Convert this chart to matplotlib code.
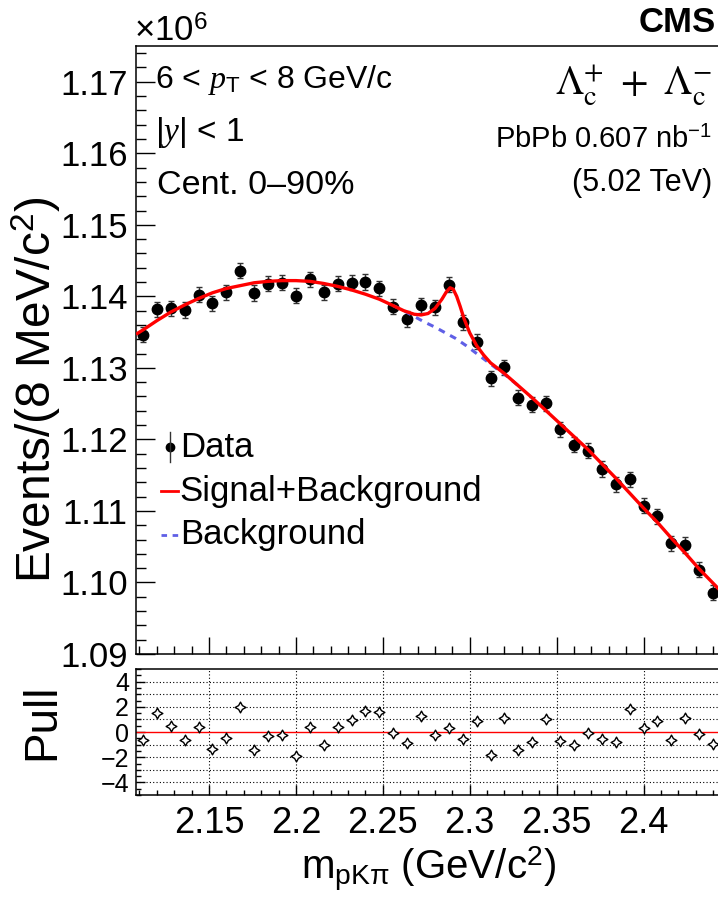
import numpy as np
import matplotlib
matplotlib.use("Agg")
import matplotlib.pyplot as plt
from matplotlib.ticker import MultipleLocator, FixedLocator, FixedFormatter, FormatStrFormatter

plt.rcParams['font.family'] = ['Liberation Sans', 'DejaVu Sans']
plt.rcParams['mathtext.fontset'] = 'custom'
plt.rcParams['mathtext.rm'] = 'Liberation Sans'
plt.rcParams['mathtext.it'] = 'Liberation Serif:italic'
plt.rcParams['mathtext.bf'] = 'Liberation Sans:bold'

# ---------------- data (counts in units of 10^6) ----------------
mass = [2.112, 2.120, 2.128, 2.136, 2.144, 2.152, 2.160, 2.168, 2.176, 2.184,
        2.192, 2.200, 2.208, 2.216, 2.224, 2.232, 2.240, 2.248, 2.256, 2.264,
        2.272, 2.280, 2.288, 2.296, 2.304, 2.312, 2.320, 2.328, 2.336, 2.344,
        2.352, 2.360, 2.368, 2.376, 2.384, 2.392, 2.400, 2.408, 2.416, 2.424,
        2.432, 2.440]
counts = [1.13462, 1.13821, 1.13835, 1.13811, 1.14021, 1.13905, 1.14058, 1.14361, 1.14045, 1.14175,
          1.14193, 1.14011, 1.14240, 1.14058, 1.14175, 1.14189, 1.14199, 1.14114, 1.13858, 1.13685,
          1.13876, 1.13849, 1.14161, 1.13639, 1.13368, 1.12856, 1.13009, 1.12585, 1.12483, 1.12506,
          1.12142, 1.11923, 1.11839, 1.11587, 1.11373, 1.11443, 1.11074, 1.10925, 1.10548, 1.10524,
          1.10175, 1.09858]
pulls = [-0.60, 1.50, 0.45, -0.65, 0.40, -1.33, -0.47, 1.95, -1.39, -0.28,
         -0.23, -1.91, 0.40, -1.04, 0.40, 0.98, 1.63, 1.55, -0.07, -0.86,
         1.24, -0.20, 0.32, -0.52, 0.90, -1.83, 1.11, -1.39, -0.78, 1.06,
         -0.68, -1.07, -0.07, -0.54, -0.78, 1.82, 0.32, 0.84, -0.60, 1.11,
         -0.13, -0.99]

fit_mass = [2.108, 2.112, 2.120, 2.128, 2.136, 2.144, 2.152, 2.160, 2.168, 2.176,
            2.184, 2.192, 2.200, 2.208, 2.216, 2.224, 2.232, 2.240, 2.248, 2.256,
            2.262, 2.268, 2.272, 2.276, 2.280, 2.284, 2.2865, 2.2887, 2.2905, 2.2925,
            2.2945, 2.2967, 2.300, 2.304, 2.308, 2.312, 2.320, 2.328, 2.336, 2.344,
            2.352, 2.360, 2.368, 2.376, 2.384, 2.392, 2.400, 2.408, 2.416, 2.424,
            2.432, 2.440, 2.444]
fit_total = [1.1347, 1.1353, 1.1366, 1.1378, 1.1388, 1.1397, 1.1405, 1.1411, 1.1415, 1.1419,
             1.1421, 1.1422, 1.1422, 1.1421, 1.1418, 1.1414, 1.1409, 1.1403, 1.1396, 1.1387,
             1.1380, 1.1375, 1.1374, 1.1376, 1.1383, 1.1396, 1.1406, 1.1412, 1.1410, 1.1400,
             1.1386, 1.1369, 1.1349, 1.1331, 1.1318, 1.1307, 1.1292, 1.1275, 1.1258, 1.1240,
             1.1222, 1.1204, 1.1186, 1.1166, 1.1146, 1.1125, 1.1104, 1.1084, 1.1062, 1.1041,
             1.1019, 1.0999, 1.0989]

bkg_mass = [2.256, 2.262, 2.268, 2.274, 2.280, 2.286, 2.292, 2.298, 2.304, 2.310,
            2.316, 2.320, 2.328]
bkg_vals = [1.1387, 1.1380, 1.1372, 1.1364, 1.1357, 1.1349, 1.1341, 1.1331, 1.1320, 1.1309,
            1.1298, 1.1291, 1.1275]

xtick_vals = [2.15, 2.2, 2.25, 2.3, 2.35, 2.4]
xtick_labels = ["2.15", "2.2", "2.25", "2.3", "2.35", "2.4"]
pull_tick_vals = [-4, -2, 0, 2, 4]
pull_tick_labels = ["\u22124", "\u22122", "0", "2", "4"]

# ---------------- figure ----------------
W, H = 718, 897
fig = plt.figure(figsize=(W / 100, H / 100), dpi=100)

def fx(px):
    return px / W

def fy(py):
    return 1 - py / H

L, R = 136, 720
ax = fig.add_axes([fx(L), fy(654), (R - L) / W, (654 - 46) / H])
axp = fig.add_axes([fx(L), fy(795), (R - L) / W, (795 - 669) / H])

err = np.sqrt(np.array(counts) * 1e6) / 1e6
ax.errorbar(mass, counts, yerr=err, fmt='o', color='black', ms=7.5, ecolor='#333333',
            elinewidth=1.0, capsize=2.5, capthick=1.0, zorder=3)
ax.plot(bkg_mass, bkg_vals, color='#5f5fe6', lw=2.2, ls=(0, (2.2, 2.0)), zorder=4)
ax.plot(fit_mass, fit_total, color='#ff0000', lw=2.4, zorder=5, solid_capstyle='butt')

ax.set_xlim(2.108, 2.444)
ax.set_ylim(1.09, 1.175)
ax.xaxis.set_major_locator(FixedLocator(xtick_vals))
ax.xaxis.set_minor_locator(MultipleLocator(0.01))
ax.yaxis.set_major_locator(MultipleLocator(0.01))
ax.yaxis.set_minor_locator(MultipleLocator(0.002))
ax.yaxis.set_major_formatter(FormatStrFormatter('%.2f'))
ax.tick_params(which='both', direction='in', top=False, right=False, labelbottom=False)
ax.tick_params(axis='y', which='major', length=13.5, width=1, labelsize=25, pad=6)
ax.tick_params(axis='y', which='minor', length=7, width=1)
ax.tick_params(axis='x', which='major', length=12, width=1)
ax.tick_params(axis='x', which='minor', length=6, width=1)
for s in ['left', 'bottom', 'top']:
    ax.spines[s].set_linewidth(1.1)
ax.spines['right'].set_visible(False)

# legend (manual)
ax.plot([0.058], [0.340], 'o', color='black', ms=6, transform=ax.transAxes, clip_on=False)
ax.plot([0.058, 0.058], [0.315, 0.365], color='#333333', lw=1, transform=ax.transAxes)
ax.text(0.075, 0.340, "Data", transform=ax.transAxes, fontsize=25, va='center', ha='left')
ax.plot([0.042, 0.072], [0.268, 0.268], color='red', lw=2, transform=ax.transAxes)
ax.text(0.075, 0.268, "Signal+Background", transform=ax.transAxes, fontsize=25, va='center', ha='left')
ax.plot([0.042, 0.072], [0.196, 0.196], color='#5f5fe6', lw=2, ls=(0, (2, 2)), transform=ax.transAxes)
ax.text(0.075, 0.196, "Background", transform=ax.transAxes, fontsize=25, va='center', ha='left')

# pull panel
axp.set_xlim(2.108, 2.444)
axp.set_ylim(-5, 5)
for g in [-4, -3, -2, -1, 1, 2, 3, 4]:
    axp.axhline(g, color='black', lw=0.8, ls=(0, (1, 2)), zorder=1)
for g in xtick_vals:
    axp.axvline(g, color='black', lw=0.8, ls=(0, (1, 2)), zorder=1)
axp.axhline(0, color='red', lw=1.0, zorder=2)
axp.scatter(mass, pulls, marker=(4, 1, 0), s=60, facecolor='white', edgecolor='black',
            linewidth=1.0, zorder=3)
axp.xaxis.set_major_locator(FixedLocator(xtick_vals))
axp.xaxis.set_major_formatter(FixedFormatter(xtick_labels))
axp.xaxis.set_minor_locator(MultipleLocator(0.01))
axp.yaxis.set_major_locator(FixedLocator(pull_tick_vals))
axp.yaxis.set_major_formatter(FixedFormatter(pull_tick_labels))
axp.yaxis.set_minor_locator(MultipleLocator(0.5))
axp.tick_params(which='both', direction='in', top=False, right=False)
axp.tick_params(axis='x', which='major', length=7, width=1, labelsize=26, pad=8)
axp.tick_params(axis='x', which='minor', length=3.5, width=1)
axp.tick_params(axis='y', which='major', length=6.5, width=1, labelsize=18, pad=5)
axp.tick_params(axis='y', which='minor', length=3.5, width=1)
for s in ['left', 'bottom', 'top']:
    axp.spines[s].set_linewidth(1.1)
axp.spines['right'].set_visible(False)

# axis titles
fig.text(fx(36), fy(390), "Events/(8 MeV/c$^{2}$)", rotation=90, fontsize=34.5,
         ha='center', va='center')
fig.text(fx(42), fy(722), "Pull", rotation=90, fontsize=33, ha='center', va='center')
fig.text(fx(428), fy(868), r"m$_{\mathrm{pK\pi}}$ (GeV/c$^{2}$)", fontsize=29,
         ha='center', va='center')

# annotations
fig.text(fx(134), fy(42), r"$\times$10$^{6}$", fontsize=25, ha='left', va='baseline')
fig.text(fx(716), fy(23), "CMS", fontsize=25, fontweight='bold', ha='right', va='center')
fig.text(fx(155), fy(80), r"6 < $p_{\mathrm{T}}$ < 8 GeV/c", fontsize=23, ha='left', va='center')
fig.text(fx(155), fy(133), r"|$y$| < 1", fontsize=24, ha='left', va='center')
fig.text(fx(157), fy(185), "Cent. 0\u201390%", fontsize=24.5, ha='left', va='center')
fig.text(fx(712), fy(85), r"$\Lambda_{\mathrm{c}}^{+}\ +\ \Lambda_{\mathrm{c}}^{-}$", fontsize=29,
         ha='right', va='center', math_fontfamily='stix')
fig.text(fx(712), fy(140), "PbPb 0.607 nb$^{-1}$", fontsize=21, ha='right', va='center')
fig.text(fx(712), fy(183), "(5.02 TeV)", fontsize=22, ha='right', va='center')

fig.savefig("out.png", dpi=100)
